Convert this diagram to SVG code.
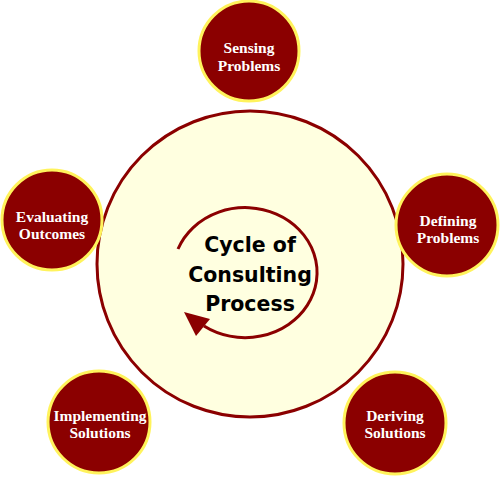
<svg xmlns="http://www.w3.org/2000/svg" width="500" height="480" viewBox="0 0 500 480">
<style>
.node{fill:#8B0000;stroke:#FFF35C;stroke-width:3}
.nt{fill:#FFFFFF;font-family:"Liberation Serif","DejaVu Serif",serif;font-weight:bold;font-size:15.5px;text-anchor:middle}
.ct{fill:#000000;font-family:"DejaVu Sans","Liberation Sans",sans-serif;font-weight:bold;font-size:20.5px;text-anchor:middle}
</style>
<rect width="500" height="480" fill="#FFFFFF"/>
<g id="center">
<circle cx="250" cy="264" r="153" fill="#FFFFE0" stroke="#8B0000" stroke-width="3"/>
<text class="ct" x="250" y="252">Cycle of</text>
<text class="ct" x="250" y="282">Consulting</text>
<text class="ct" x="250" y="311">Process</text>
</g>
<g id="connectors">
<path d="M178,249 A72,65 0 1 1 204,326" fill="none" stroke="#8B0000" stroke-width="3"/>
<polygon points="184,312 196,336 210,319" fill="#8B0000"/>
</g>
<g id="sensing">
<circle class="node" cx="249" cy="51" r="50"/>
<text class="nt" x="249" y="53">Sensing</text>
<text class="nt" x="249" y="71">Problems</text>
</g>
<g id="defining">
<circle class="node" cx="447" cy="225" r="51"/>
<text class="nt" x="448" y="226">Defining</text>
<text class="nt" x="448" y="243">Problems</text>
</g>
<g id="evaluating">
<circle class="node" cx="52" cy="220" r="50"/>
<text class="nt" x="52" y="222">Evaluating</text>
<text class="nt" x="52" y="239">Outcomes</text>
</g>
<g id="implementing">
<circle class="node" cx="99" cy="422" r="51"/>
<text class="nt" x="100" y="421">Implementing</text>
<text class="nt" x="100" y="438">Solutions</text>
</g>
<g id="deriving">
<circle class="node" cx="395" cy="423" r="51"/>
<text class="nt" x="395" y="421">Deriving</text>
<text class="nt" x="395" y="438">Solutions</text>
</g>
</svg>
